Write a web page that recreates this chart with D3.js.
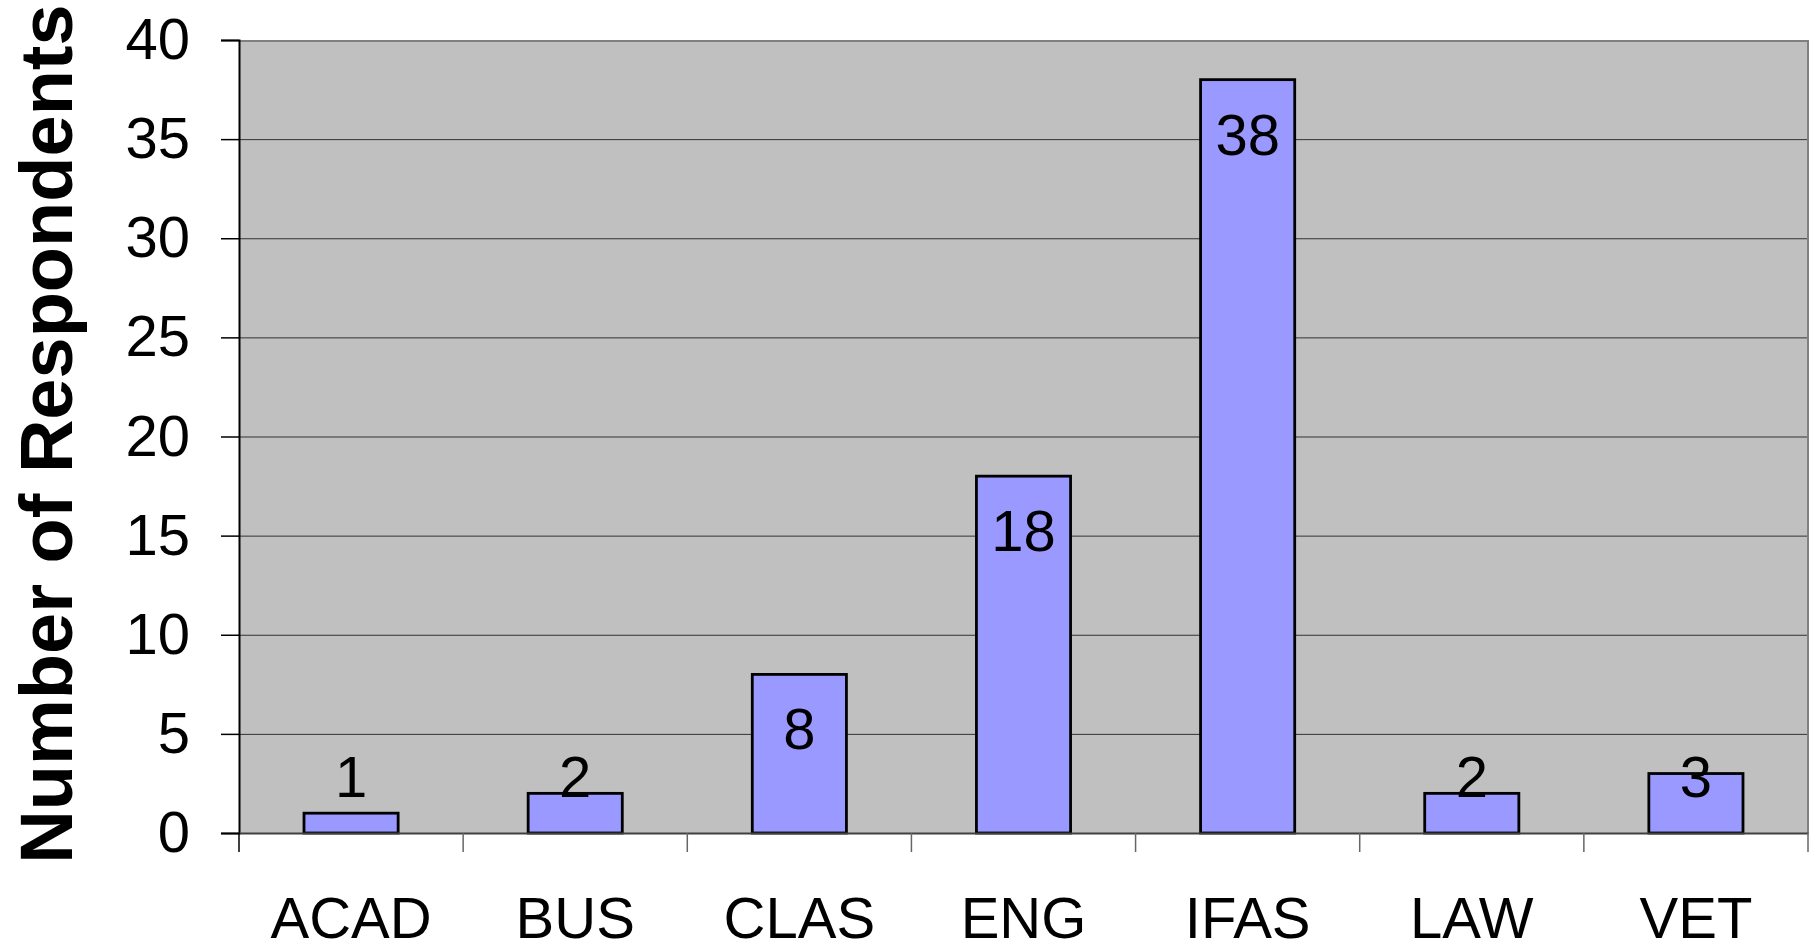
<!DOCTYPE html>
<html>
<head>
<meta charset="utf-8">
<script src="https://cdn.jsdelivr.net/npm/d3@7"></script>
<style>
  body { margin: 0; background: #fff; }
  text { font-family: "Liberation Sans", Arial, sans-serif; fill: #000; }
</style>
</head>
<body>
<script>
var categories = ["ACAD", "BUS", "CLAS", "ENG", "IFAS", "LAW", "VET"];
var counts = [1, 2, 8, 18, 38, 2, 3];
var yTicks = [0, 5, 10, 15, 20, 25, 30, 35, 40];
var yTitle = "Number of Respondents";

(function () {

var width = 1816,
    height = 946,
    plotLeft = 239,
    plotRight = 1808,
    plotTop = 40,
    plotBottom = 833,
    fontSize = "58px";

var svg = d3.select("body").append("svg")
    .attr("width", width)
    .attr("height", height);

var x = d3.scaleBand()
    .domain(categories)
    .range([plotLeft, plotRight])
    .padding(0);

var y = d3.scaleLinear()
    .domain([0, 40])
    .range([plotBottom, plotTop]);

// plot background
svg.append("rect")
    .attr("x", plotLeft)
    .attr("y", plotTop)
    .attr("width", plotRight - plotLeft)
    .attr("height", plotBottom - plotTop)
    .attr("fill", "#c0c0c0");

// gridlines
svg.selectAll("line.grid")
    .data(yTicks.filter(function(d){ return d > 0 && d < 40; }))
    .enter()
    .append("line")
    .attr("class", "grid")
    .attr("x1", plotLeft)
    .attr("x2", plotRight)
    .attr("y1", function(d){ return y(d) + 0.5; })
    .attr("y2", function(d){ return y(d) + 0.5; })
    .attr("stroke", "#333")
    .attr("stroke-width", 1);

// top and right border of the plot
svg.append("path")
    .attr("d", "M" + plotLeft + "," + (plotTop + 1) + "H" + plotRight + "V" + plotBottom)
    .attr("fill", "none")
    .attr("stroke", "#808080")
    .attr("stroke-width", 2);

// bars
var barW = x.bandwidth() * 0.42;
svg.selectAll("rect.bar")
    .data(counts)
    .enter()
    .append("rect")
    .attr("class", "bar")
    .attr("x", function(d, i){ return x(categories[i]) + (x.bandwidth() - barW) / 2; })
    .attr("y", function(d){ return y(d); })
    .attr("width", barW)
    .attr("height", function(d){ return y(0) - y(d); })
    .attr("fill", "#9999ff")
    .attr("stroke", "#000")
    .attr("stroke-width", 2.8);

// value labels (kept inside plot like the original)
svg.selectAll("text.val")
    .data(counts)
    .enter()
    .append("text")
    .attr("class", "val")
    .attr("x", function(d, i){ return x(categories[i]) + x.bandwidth() / 2; })
    .attr("y", function(d){ return Math.min(y(d) + 75, y(0) - 36); })
    .attr("text-anchor", "middle")
    .style("font-size", fontSize)
    .text(function(d){ return d; });

// y axis
var yAxis = d3.axisLeft(y)
    .tickValues(yTicks)
    .tickSize(18)
    .tickPadding(31);

var gy = svg.append("g")
    .attr("transform", "translate(" + plotLeft + ",0)")
    .call(yAxis);
gy.select(".domain").attr("stroke", "#000").attr("stroke-width", 2);
gy.selectAll(".tick line").attr("stroke", "#000").attr("stroke-width", 1.5);
gy.selectAll(".tick text")
    .style("font-size", fontSize)
    .style("font-family", "'Liberation Sans', Arial, sans-serif")
    .attr("fill", "#000");

// x axis
var xAxis = d3.axisBottom(x)
    .tickSize(0)
    .tickPadding(64);

var gx = svg.append("g")
    .attr("transform", "translate(0," + plotBottom + ")")
    .call(xAxis);
gx.select(".domain").attr("stroke", "#404040").attr("stroke-width", 2);
gx.selectAll(".tick text")
    .style("font-size", fontSize)
    .style("font-family", "'Liberation Sans', Arial, sans-serif")
    .attr("fill", "#000");

// category boundary ticks
var bounds = categories.map(function(c){ return x(c); }).concat([plotRight]);
svg.selectAll("line.xtick")
    .data(bounds)
    .enter()
    .append("line")
    .attr("class", "xtick")
    .attr("x1", function(d){ return d; })
    .attr("x2", function(d){ return d; })
    .attr("y1", plotBottom)
    .attr("y2", plotBottom + 19)
    .attr("stroke", function(d, i){ return i === 0 ? "#000" : "#666"; })
    .attr("stroke-width", 1.5);

// y title
svg.append("text")
    .attr("transform", "translate(72,434) rotate(-90)")
    .attr("text-anchor", "middle")
    .style("font-size", "74px")
    .style("font-weight", "bold")
    .text(yTitle);

})();
</script>
</body>
</html>
